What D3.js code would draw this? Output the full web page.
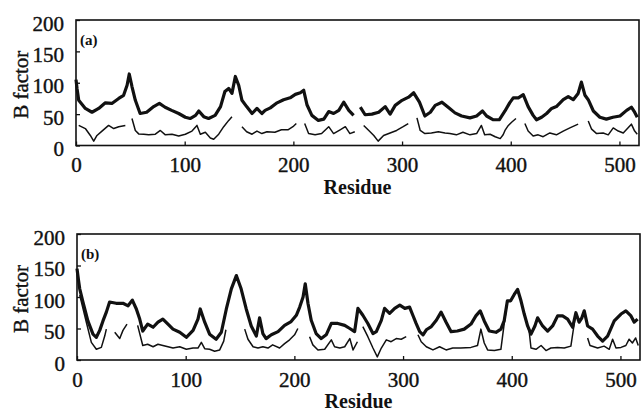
<!DOCTYPE html>
<html><head><meta charset="utf-8">
<script src="https://cdn.jsdelivr.net/npm/d3@7"></script>
<style>
html,body{margin:0;padding:0;background:#fff;}
svg{display:block;}
text{font-family:"Liberation Serif","Times New Roman",serif;fill:#111;}
</style></head>
<body><svg id="c" width="642" height="412"></svg>
<script>
const xTicks = [0,100,200,300,400,500];
const yTicks = [0,50,100,150,200];
const xLabel = "Residue";
const yLabel = "B factor";
const panelLabels = ["(a)","(b)"];

// Panel (a): thick (upper) curve, gaps marked with null
const aThick = [[0,105],[1,90],[2.5,72],[8.6,59],[14.7,53],[20.9,59],[27,68],[33,67],[39.3,75],[43.8,80],[47,96],[49,114],[51.5,94],[54.6,72],[59,51],[65,53],[71.5,62],[76.7,67],[82,61],[88,56],[94.5,51],[100.6,45],[105,43],[110,48],[113,55],[117.5,46],[122,43],[128,48],[133,62],[137,86],[140.5,91],[143.5,83],[146.6,110],[149.7,96],[152.7,72],[157,62],[162,51],[166.5,59],[171,51],[174,56],[178.8,60],[185,68],[191,73],[197,76],[201.8,81.5],[206.4,84],[209.5,88],[212.5,65],[217,48],[223,40],[228,42],[232.5,54],[237,51],[241.8,56],[246.3,69],[251,56],[255.4,48],null,[261.6,61],[266,49],[272.3,50],[278.5,53],[284.5,62],[289,50],[293.7,64],[300,72],[306,77],[310.7,84],[316,69],[321,47],[326,53],[330.5,64],[336.7,69],[343,60],[348.7,52],[354.8,47],[362.5,44],[368.6,47],[374,55],[377.8,47],[384,41],[389.4,41],[394.7,55],[399,68],[402.3,76],[407,76],[411.5,81],[416,62],[420.6,48],[423.7,41],[428.4,45],[433,51],[437.6,59],[442,62],[448.3,73],[452.9,78],[457.5,73],[462,83],[465,101],[468.3,80],[471.3,73],[476,55],[482,45],[488,42],[494,45],[500.5,47],[506.6,56],[511,61],[514,53],[516.4,45]];
// Panel (a): thin (lower) curve
const aThin = [[2.5,32],[8.6,27],[13.2,16],[16.3,7],[19.3,16],[23.9,23],[30,32],[34.7,27],[39.3,30],[45.4,32],null,[51.5,43],[54.6,24],[57.7,18.5],[62.3,18],[66.9,17],[73,18],[77.6,24],[82.2,17],[88.3,18],[94.5,15],[100.6,18],[106.7,23],[111.3,32],[114.4,18],[119,21],[123.6,12],[126.7,10],[131.3,18],[135.9,30],[140.5,40],[143.5,46],null,[152.7,30],[157,22],[162,18],[166.5,23],[171,19],[175.7,22],[183,21],[189,25],[195,25],[199.6,30],[202.7,35],null,[210.4,35],[214,19],[220,17],[226,19],[232.5,30],[237,19],[243,25],[247.8,30],[252,19],[256.5,22],null,[264.7,32],[269.4,24],[274,16],[278,7],[283,16],[289,20],[295,24],[301,30],[305.7,35],null,[313.7,44],[316.7,24],[321,19],[327,20],[333.4,22],[339.5,20],[344,19],[350,17],[356,21],[362.5,17],[368.6,19],[373,32],[376,17],[381,18],[385.7,14],[390.3,11],[393,17],[394.7,24],[397.8,32],[400.8,37],[404.8,43],null,[413,35],[416,23],[420.6,15],[425.2,17],[429.8,14],[436,20],[442,17],[448.3,23],[454.4,28],[462,34],null,[471.3,39],[474.4,26],[479,19],[485,20],[489.7,17],[494.3,28],[498.9,23],[503.5,20],[511,34],[514,23],[516.4,18]];

// Panel (b): thick (upper) curve
const bThick = [[0,145],[1.5,125],[2.5,113],[5.5,92],[10,62],[14.7,41],[17.8,36],[20.9,47],[23.9,62],[27,76],[30,92],[36,90],[42.3,90],[47,86],[50.9,95],[54.6,81],[57.7,65],[60.5,46],[65,57],[70,52],[74.5,60],[79,65],[83.7,57],[88.3,49],[94.5,44],[100.6,36],[106.8,47],[111.3,65],[113.4,81],[117.5,60],[122,41],[128,33],[132.8,44],[137.4,81],[142,113],[146.6,134],[151,113],[155.7,81],[160.3,54],[165,38],[168,67],[171,42],[174,34],[178.8,40],[185,45],[191,55],[197,61],[201.8,71],[204.9,84],[208,100],[210,121],[212.5,90],[215.5,63],[220,42],[224.7,34],[229.3,40],[234,58],[240,58],[246.3,55],[251,50],[255.4,45],[258.5,82],[263,71],[267.6,58],[272.3,42],[275.4,45],[280,63],[283,82],[287.6,74],[292.3,82],[297,87],[301.6,82],[306,84],[309,71],[312,58],[315.3,45],[318.4,40],[321.4,48],[326,53],[330.6,63],[335,76],[339.6,60],[344.2,45],[350,46],[356.3,49],[362.5,57],[367,70],[371,78],[374.7,62],[379.3,46],[385.5,44],[390,49],[393,62],[396,94],[399,94],[402.3,104],[405.4,112],[408.5,94],[411.5,73],[414.6,54],[417.7,41],[421.3,54],[423.8,67],[428.4,54],[433,46],[437.6,54],[442.2,70],[446.8,70],[451.4,65],[456,52],[459,75],[462,60],[464.5,67],[466.7,78],[469.8,54],[474.4,49],[479,38],[483.6,30],[488.2,38],[494.3,62],[500.5,73],[505,78],[509.7,70],[512.7,60],[515.8,65]];
// Panel (b): thin (lower) curve
const bThin = [[2.5,103],[8.6,60],[13.2,28],[17.8,17],[22.4,20],[25.5,38],[27,49],null,[34.7,44],[39.3,34],[42.3,47],[46,57],null,[55.8,55],[60.5,23],[65,25],[70,21],[74.5,25],[79,23],[83.7,21],[88.3,19],[94.5,21],[100.6,17],[106.8,19],[111.3,19],[114.4,28],[117.5,18],[122,17],[126.6,14],[131.3,16],[135,30],[137,48],null,[154.3,49],[157.3,33],[162,21],[166.5,19],[171,21],[175.7,19],[180,24],[186.4,19],[191,26],[195.6,32],[200.2,40],[203.2,50],null,[214,37],[217,24],[221.7,16],[227.9,17],[234,32],[237,21],[241.8,19],[246.3,21],[251,34],[254,16],[258,29],null,[263,53],[267.6,37],[272.3,19],[276.3,5],[280,19],[284.6,32],[289,29],[293.7,34],[298.3,33],[302.9,37],null,[313.7,40],[316.7,29],[321.4,21],[327.5,16],[333.6,21],[339.6,16],[345.7,19],[353,19],[362.5,20],[368.5,23],[371.6,49],[374.7,27],[377.8,16],[384,15],[390,17],[393,57],[396,94],[399,94],[402.3,104],[405.4,112],[408.5,94],[411.5,73],[414.6,54],[416,46],[417.7,19],[422.3,17],[427,23],[431.5,15],[436,19],[442.2,20],[448.3,19],[454.4,22],[457,52],[459,75],[462,60],[464.5,67],[466.7,78],null,[469.8,35],[472,23],[479,19],[485,22],[489.7,17],[492.8,33],[495.9,19],[500.5,20],[505,23],[508,33],[511,27],[514,35],[516.4,23]];

const panels = [
  {label: panelLabels[0], thick: aThick, thin: aThin, left: 76, right: 639, top: 20, bottom: 145.5},
  {label: panelLabels[1], thick: bThick, thin: bThin, left: 77, right: 640, top: 234, bottom: 360}
];

const svg = d3.select("#c");
panels.forEach(p => {
  const x = d3.scaleLinear().domain([0, 518]).range([p.left, p.right]);
  const y = d3.scaleLinear().domain([0, 200]).range([p.bottom, p.top]);
  const g = svg.append("g");

  const line = d3.line().defined(d => d !== null).x(d => x(d[0])).y(d => y(d[1]));
  g.append("path").datum(p.thin).attr("d", line)
    .attr("fill","none").attr("stroke","#111").attr("stroke-width",1.5).attr("stroke-linejoin","round");
  g.append("path").datum(p.thick).attr("d", line)
    .attr("fill","none").attr("stroke","#111").attr("stroke-width",3.2).attr("stroke-linejoin","round");

  const xa = g.append("g").attr("transform", `translate(0,${p.bottom})`)
    .call(d3.axisBottom(x).tickValues(xTicks).tickSizeInner(-4).tickSizeOuter(0).tickPadding(12).tickFormat(d3.format("d")));
  xa.select(".domain").remove();
  xa.selectAll("line").attr("stroke","#111").attr("stroke-width",1.3);
  xa.selectAll("text").attr("font-size",21).attr("fill","#111").attr("stroke","#111").attr("stroke-width",0.4)
    .style("font-family",'"Liberation Serif",serif');

  const ya = g.append("g").attr("transform", `translate(${p.left},0)`)
    .call(d3.axisLeft(y).tickValues(yTicks).tickSizeInner(-4).tickSizeOuter(0).tickPadding(12).tickFormat(d3.format("d")));
  ya.select(".domain").remove();
  ya.selectAll("line").attr("stroke","#111").attr("stroke-width",1.3);
  ya.selectAll("text").attr("font-size",21).attr("dy","0.48em").attr("fill","#111").attr("stroke","#111").attr("stroke-width",0.4)
    .style("font-family",'"Liberation Serif",serif');

  g.append("rect").attr("x", p.left).attr("y", p.top)
    .attr("width", p.right - p.left).attr("height", p.bottom - p.top)
    .attr("fill","none").attr("stroke","#111").attr("stroke-width",1.6);

  g.append("text").attr("x", (p.left + p.right)/2).attr("y", p.bottom + 48)
    .attr("text-anchor","middle").attr("font-size",20).attr("font-weight","bold").text(xLabel);
  const cy = (p.top + p.bottom)/2 + 2;
  g.append("text").attr("transform", `translate(28,${cy}) rotate(-90)`)
    .attr("text-anchor","middle").attr("font-size",21).attr("stroke","#111").attr("stroke-width",0.4).text(yLabel);
  g.append("text").attr("x", p.left + 4).attr("y", p.top + 25)
    .attr("font-size",15).attr("font-weight","bold").text(p.label);
});
</script></body></html>
